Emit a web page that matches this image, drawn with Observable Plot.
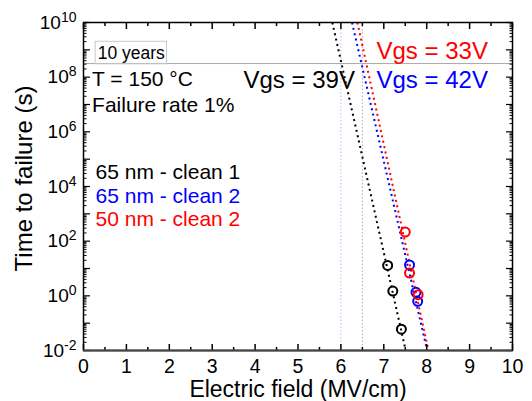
<!DOCTYPE html>
<html>
<head>
<meta charset="utf-8">
<script src="https://cdn.jsdelivr.net/npm/d3@7"></script>
<script src="https://cdn.jsdelivr.net/npm/@observablehq/plot@0.6"></script>
<style>
  html, body { margin: 0; padding: 0; background: #fff; }
  svg { font-family: "Liberation Sans", Arial, sans-serif; }
</style>
</head>
<body>
<div id="chart"></div>
<script>
// ---- data ----
const series = ["65 nm - clean 1", "65 nm - clean 2", "50 nm - clean 2"];
const seriesColors = ["#000000", "#0000ff", "#ff0000"];

const fieldClean1_65 = [7.09, 7.21, 7.41];
const ttfClean1_65   = [12.9, 1.5, 0.06];
const fieldClean2_65 = [7.60, 7.75, 7.79];
const ttfClean2_65   = [13.5, 1.35, 0.63];
const fieldClean2_50 = [7.50, 7.60, 7.80];
const ttfClean2_50   = [215, 6.8, 1.1];

// dotted fit lines: field at TTF = 1e10 s and at TTF = 1e-2 s
const fitFieldTop    = [5.80, 6.26, 6.385];
const fitFieldBottom = [7.51, 8.01, 8.04];
const fitTtfTop = 1e10, fitTtfBottom = 1e-2;

const tenYears = 3.1536e8;
const refFields = [6.0, 6.5];
const refColors = ["#9fc5f8", "#aaaaaa"];

const xTicks = [0, 1, 2, 3, 4, 5, 6, 7, 8, 9, 10];
const xMinorTicks = [0.5, 1.5, 2.5, 3.5, 4.5, 5.5, 6.5, 7.5, 8.5, 9.5];
const yDecadeExps = [-2, -1, 0, 1, 2, 3, 4, 5, 6, 7, 8, 9, 10];
const yLabelExps = [-2, 0, 2, 4, 6, 8, 10];

const vgsLabels = ["Vgs = 39V", "Vgs = 33V", "Vgs = 42V"];
const vgsX = [3.73, 6.83, 6.83];
const vgsY = [3.85e7, 4.8e8, 3.85e7];
const vgsColors = ["#000000", "#ff0000", "#0000ff"];

const noteLabels = ["T = 150 °C", "Failure rate 1%"];
const noteX = [0.20, 0.20];
const noteY = [4.95e7, 5.2e6];

const legendX = 0.28;
const legendY = [1.9e4, 2.45e3, 3.5e2];

const yearsLabel = "10 years";
const yearsX = 0.33, yearsY = 4.7e8;

// ---- tables ----
const fieldSets = [fieldClean1_65, fieldClean2_65, fieldClean2_50];
const ttfSets = [ttfClean1_65, ttfClean2_65, ttfClean2_50];
const points = series.flatMap((s, i) => fieldSets[i].map((f, j) => ({series: s, field: f, ttf: ttfSets[i][j]})));
const fits = series.map((s, i) => ({series: s, x1: fitFieldTop[i], y1: fitTtfTop, x2: fitFieldBottom[i], y2: fitTtfBottom}));

const yDecades = yDecadeExps.map(e => Math.pow(10, e));
const yLabels = yLabelExps.map(e => Math.pow(10, e));
const yMinor = yDecadeExps.slice(0, -1).flatMap(e => [2,3,4,5,6,7,8,9].map(m => m * Math.pow(10, e)));

const vgs = vgsLabels.map((t, i) => ({t, x: vgsX[i], y: vgsY[i], c: vgsColors[i]}));
const notes = noteLabels.map((t, i) => ({t, x: noteX[i], y: noteY[i]}));
const legend = series.map((t, i) => ({t, x: legendX, y: legendY[i], c: seriesColors[i]}));

const font = "Liberation Sans, Arial, sans-serif";

const chart = Plot.plot({
  width: 532,
  height: 401,
  marginTop: 22,
  marginRight: 20,
  marginBottom: 51,
  marginLeft: 83,
  style: {fontFamily: font, background: "#fff"},
  x: {domain: [0, 10], label: null},
  y: {type: "log", domain: [1e-2, 1e10], label: null},
  color: {domain: series, range: seriesColors},
  marks: [
    Plot.ruleY([tenYears], {stroke: "#aaaaaa", strokeWidth: 1}),
    Plot.ruleX(refFields, {stroke: (d, i) => refColors[i], strokeWidth: 1, strokeDasharray: "1.5,2"}),
    Plot.link(fits, {x1: "x1", y1: "y1", x2: "x2", y2: "y2", stroke: "series", strokeWidth: 2, strokeDasharray: "2,3.5"}),
    Plot.dot(points, {x: "field", y: "ttf", stroke: "series", r: 4.5, strokeWidth: 2, fill: "none"}),
    Plot.text([yearsLabel], {x: () => yearsX, y: () => yearsY, text: d => d, textAnchor: "start", lineAnchor: "bottom", fontSize: 17.5, fill: "#000", ariaLabel: "years"}),
    Plot.text(notes, {x: "x", y: "y", text: "t", textAnchor: "start", lineAnchor: "bottom", fontSize: 21, fill: "#000"}),
    Plot.text(legend, {x: "x", y: "y", text: "t", textAnchor: "start", lineAnchor: "bottom", fontSize: 21, fill: d => d.c}),
    Plot.text(vgs, {x: "x", y: "y", text: "t", textAnchor: "start", lineAnchor: "bottom", fontSize: 24, fill: d => d.c}),
    // axes: bottom labels + ticks
    Plot.axisX({anchor: "bottom", ticks: xTicks, tickSize: 0, tickPadding: 9, fontSize: 19.5, label: null, tickFormat: d => String(d), color: "#000"}),
    Plot.axisX({anchor: "bottom", ticks: xTicks, tickSize: -6, text: null, label: null, strokeWidth: 1.5}),
    Plot.axisX({anchor: "bottom", ticks: xMinorTicks, tickSize: -3, text: null, label: null, strokeWidth: 1.5}),
    Plot.axisX({anchor: "top", ticks: xTicks, tickSize: -6, text: null, label: null, strokeWidth: 1.5}),
    Plot.axisX({anchor: "top", ticks: xMinorTicks, tickSize: -3, text: null, label: null, strokeWidth: 1.5}),
    // y axes
    Plot.axisY({anchor: "left", ticks: yLabels, tickSize: 0, tickPadding: 7, fontSize: 19, label: null, tickFormat: d => "10^" + Math.round(Math.log10(d)), color: "#000", ariaLabel: "ylab"}),
    Plot.axisY({anchor: "left", ticks: yDecades, tickSize: -7, text: null, label: null, strokeWidth: 1.2}),
    Plot.axisY({anchor: "left", ticks: yMinor, tickSize: -3.5, text: null, label: null, strokeWidth: 1}),
    Plot.axisY({anchor: "right", ticks: yDecades, tickSize: -7, text: null, label: null, strokeWidth: 1.2}),
    Plot.axisY({anchor: "right", ticks: yMinor, tickSize: -3.5, text: null, label: null, strokeWidth: 1}),
    Plot.frame({stroke: "#000", strokeWidth: 1.5}),
    Plot.ruleY([1e-2], {stroke: "#444", strokeWidth: 2}),
    // axis titles
    Plot.text(["Electric field (MV/cm)"], {frameAnchor: "bottom", text: d => d, dy: 46, textAnchor: "middle", lineAnchor: "bottom", fontSize: 23, fill: "#000"}),
    Plot.text(["Time to failure (s)"], {frameAnchor: "left", text: d => d, rotate: -90, dx: -59, dy: -8, textAnchor: "middle", lineAnchor: "middle", fontSize: 24, fill: "#000"})
  ]
});

document.getElementById("chart").appendChild(chart);

// superscript exponents on y tick labels
chart.querySelectorAll("text").forEach(t => {
  const s = t.textContent;
  if (!s.startsWith("10^")) return;
  const exp = s.slice(3);
  t.textContent = "";
  const base = document.createElementNS("http://www.w3.org/2000/svg", "tspan");
  base.textContent = "10";
  const sup = document.createElementNS("http://www.w3.org/2000/svg", "tspan");
  sup.textContent = exp;
  sup.setAttribute("font-size", "14");
  sup.setAttribute("dy", "-7");
  t.appendChild(base);
  t.appendChild(sup);
});

// box around "10 years"
const yl = Array.from(chart.querySelectorAll("text")).find(t => t.textContent === yearsLabel);
if (yl) {
  const bb = yl.getBBox();
  const rect = document.createElementNS("http://www.w3.org/2000/svg", "rect");
  rect.setAttribute("x", bb.x - 2.5);
  rect.setAttribute("y", bb.y - 1.5);
  rect.setAttribute("width", bb.width + 4);
  rect.setAttribute("height", bb.height + 2.5);
  rect.setAttribute("fill", "none");
  rect.setAttribute("stroke", "#c8c8c8");
  rect.setAttribute("stroke-width", "1");
  const tr = yl.getAttribute("transform");
  if (tr) rect.setAttribute("transform", tr);
  yl.parentNode.insertBefore(rect, yl);
}
</script>
</body>
</html>
